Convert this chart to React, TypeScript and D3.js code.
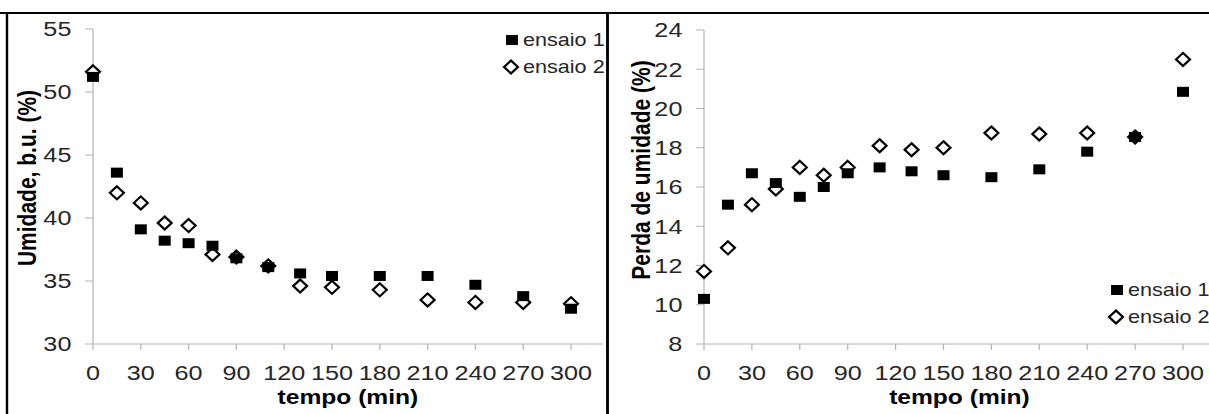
import React from 'react'
import { scaleLinear } from 'd3'

// the reference is stretched sideways, so draw in a narrower box and let the viewBox widen it
const S = 1.2
const W = 1209
const H = 414
const DW = W / S

const tempo = [0, 15, 30, 45, 60, 75, 90, 110, 130, 150, 180, 210, 240, 270, 300]
const umidadeEnsaio1 = [51.2, 43.6, 39.1, 38.2, 38.0, 37.8, 36.8, 36.1, 35.6, 35.4, 35.4, 35.4, 34.7, 33.8, 32.8]
const umidadeEnsaio2 = [51.6, 42.0, 41.2, 39.6, 39.4, 37.1, 36.9, 36.2, 34.6, 34.5, 34.3, 33.5, 33.3, 33.3, 33.2]
const perdaEnsaio1 = [10.3, 15.1, 16.7, 16.2, 15.5, 16.0, 16.7, 17.0, 16.8, 16.6, 16.5, 16.9, 17.8, 18.55, 20.85]
const perdaEnsaio2 = [11.7, 12.9, 15.1, 15.9, 17.0, 16.6, 17.0, 18.1, 17.9, 18.0, 18.75, 18.7, 18.75, 18.55, 22.5]

const xTicks = [0, 30, 60, 90, 120, 150, 180, 210, 240, 270, 300]
const umidadeTicks = [30, 35, 40, 45, 50, 55]
const perdaTicks = [8, 10, 12, 14, 16, 18, 20, 22, 24]
const seriesNames = ['ensaio 1', 'ensaio 2']

const font = '"Liberation Sans", Arial, sans-serif'
const axisColor = '#b3b3b3'
const labelColor = '#262626'

const Square = ({ x, y }: { x: number; y: number }) => (
  <rect x={x - 5} y={y - 5} width={10} height={10} fill="#000" />
)

const Diamond = ({ x, y }: { x: number; y: number }) => (
  <path d={`M${x},${y - 6.5}L${x + 5.8},${y}L${x},${y + 6.5}L${x - 5.8},${y}Z`} fill="#fff" stroke="#000" strokeWidth={2} />
)

type PanelProps = {
  x0: number
  x300: number
  yDomain: [number, number]
  yTop: number
  yBottom: number
  yTicks: number[]
  s1: number[]
  s2: number[]
  yTitle: string
  yTitleX: number
  yTitleY: number
  legendX: number
  legendY: number
}

function Panel(p: PanelProps) {
  const xScale = scaleLinear().domain([0, 300]).range([p.x0 / S, p.x300 / S])
  const yScale = scaleLinear().domain(p.yDomain).range([p.yBottom, p.yTop])
  const xEnd = xScale(320)
  const base = yScale(p.yDomain[0])
  const left = xScale(0)
  return (
    <g fontFamily={font}>
      {/* y axis */}
      <line x1={left} x2={left} y1={yScale(p.yDomain[1])} y2={base} stroke={axisColor} strokeWidth={1} />
      {p.yTicks.map(t => (
        <g key={t} transform={`translate(0,${yScale(t)})`}>
          <line x1={left - 8 / S} x2={left} stroke={axisColor} strokeWidth={1} />
          <text x={left - 18} dy="0.35em" textAnchor="end" fontSize={21} fill={labelColor}>{t}</text>
        </g>
      ))}
      {/* x axis */}
      <line x1={left} x2={xEnd} y1={base} y2={base} stroke={axisColor} strokeWidth={1} />
      {xTicks.map(t => (
        <g key={t} transform={`translate(${xScale(t)},0)`}>
          <line y1={base} y2={base + 6} stroke={axisColor} strokeWidth={1} />
          <text y={380} textAnchor="middle" fontSize={21} fill={labelColor}>{t}</text>
        </g>
      ))}
      <text x={(left + xEnd) / 2} y={404} textAnchor="middle" fontSize={20.5} fontWeight="bold" fill="#000">tempo (min)</text>
      <text transform={`translate(${p.yTitleX / S},${p.yTitleY}) rotate(-90)`} dy="0.35em" textAnchor="middle" fontSize={21} fontWeight="bold" fill="#000">{p.yTitle}</text>
      {/* points: diamonds first, squares over them */}
      {tempo.map((t, i) => <Diamond key={'d' + t} x={xScale(t)} y={yScale(p.s2[i])} />)}
      {tempo.map((t, i) => <Square key={'s' + t} x={xScale(t)} y={yScale(p.s1[i])} />)}
      {/* legend */}
      <Square x={p.legendX / S} y={p.legendY} />
      <text x={(p.legendX + 11) / S} y={p.legendY + 6.5} fontSize={18} fill={labelColor}>{seriesNames[0]}</text>
      <Diamond x={(p.legendX - 1) / S} y={p.legendY + 27} />
      <text x={(p.legendX + 11) / S} y={p.legendY + 33.5} fontSize={18} fill={labelColor}>{seriesNames[1]}</text>
    </g>
  )
}

export default function App() {
  return (
    <svg
      width={W}
      height={H}
      viewBox={`0 0 ${DW} ${H}`}
      preserveAspectRatio="none"
      style={{ position: 'absolute', left: 0, top: 0, background: '#fff' }}
    >
      <rect x={0} y={0} width={DW} height={H} fill="#fff" />
      <Panel
        x0={93}
        x300={571}
        yDomain={[30, 55]}
        yTop={29}
        yBottom={344}
        yTicks={umidadeTicks}
        s1={umidadeEnsaio1}
        s2={umidadeEnsaio2}
        yTitle="Umidade, b.u. (%)"
        yTitleX={27}
        yTitleY={178}
        legendX={512}
        legendY={40}
      />
      <Panel
        x0={704}
        x300={1183}
        yDomain={[8, 24]}
        yTop={30}
        yBottom={344}
        yTicks={perdaTicks}
        s1={perdaEnsaio1}
        s2={perdaEnsaio2}
        yTitle="Perda de umidade (%)"
        yTitleX={641}
        yTitleY={170}
        legendX={1117}
        legendY={290}
      />
      {/* frames */}
      <line x1={0} x2={DW} y1={13} y2={13} stroke="#000" strokeWidth={2} />
      <line x1={7 / S} x2={7 / S} y1={12} y2={H} stroke="#000" strokeWidth={2} />
      <line x1={607.5 / S} x2={607.5 / S} y1={12} y2={H} stroke="#000" strokeWidth={2.4} />
    </svg>
  )
}
